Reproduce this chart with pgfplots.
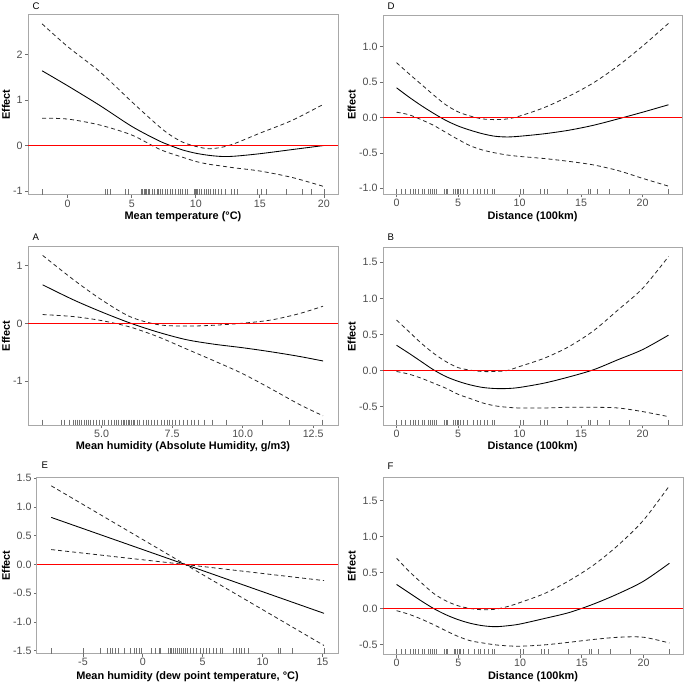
\documentclass[border=0pt]{standalone}
\usepackage{pgfplots}
\pgfplotsset{compat=1.18}
\usepackage{pgfplotstable}
\usepackage{fontspec}
\setmainfont{Liberation Sans}

\definecolor{framegray}{RGB}{168,168,168}
\definecolor{tickgray}{RGB}{77,77,77}
\definecolor{tickmark}{RGB}{110,110,110}

\pgfplotsset{
  every axis title shift=0pt,
  gam/.style={
    scale only axis,
    anchor=south west,
    axis line style={draw=framegray, line width=0.75pt},
    tick align=outside,
    xtick pos=left, ytick pos=left,
    major tick length=2.4pt,
    tick style={draw=tickmark, line width=0.55pt},
    tick label style={font=\fontsize{8}{9.6}\selectfont, text=tickgray},
    xticklabel style={yshift=2.2pt},
    yticklabel style={xshift=1.8pt},
    /pgf/number format/assume math mode=true,
    clip=true,
  },
  ylab/.style={every axis y label/.style={at={(rel axis cs:0,0.5)}, anchor=center, xshift=-#1, rotate=90, font=\fontsize{8.2}{10}\selectfont\bfseries}},
  xlab/.style={every axis x label/.style={at={(rel axis cs:0.5,0)}, anchor=center, yshift=-#1, font=\fontsize{8.2}{10}\selectfont\bfseries}},
  ptitle/.style={every axis title/.style={at={(rel axis cs:0,1)}, anchor=base west, yshift=#1, font=\fontsize{7.2}{8}\selectfont}},
  fitcurve/.style={draw=black, line width=0.65pt, smooth},
  cicurve/.style={draw=black!85, line width=0.6pt, dash pattern=on 3pt off 2.25pt, smooth},
  redzero/.style={color=red, line width=1.2pt},
  rugmarks/.style={only marks, mark=|, mark size=2pt, mark options={draw=black!55, line width=0.4pt, yshift=2pt}},
  dec1y/.style={yticklabel style={/pgf/number format/.cd, fixed, fixed zerofill, precision=1}},
  dec1x/.style={xticklabel style={/pgf/number format/.cd, fixed, fixed zerofill, precision=1}},
}

% ---- smooth fits: x, fit, upper, lower ----
\pgfplotstableread[row sep=\\]{
x fit up lo\\
-2 1.64 2.67 0.60\\
0 1.31 2.17 0.58\\
2.5 0.88 1.62 0.45\\
5 0.42 0.96 0.23\\
7 0.12 0.45 -0.06\\
8 0.00 0.23 -0.17\\
9 -0.10 0.07 -0.26\\
10 -0.17 -0.02 -0.35\\
11 -0.215 -0.07 -0.41\\
12 -0.24 -0.04 -0.45\\
13 -0.235 0.04 -0.49\\
15 -0.18 0.27 -0.56\\
17.5 -0.09 0.55 -0.70\\
20 0.00 0.91 -0.90\\
}\datC

\pgfplotstableread[row sep=\\]{
x fit up lo\\
0 0.42 0.775 0.075\\
1 0.29 0.62 0.04\\
2 0.17 0.47 -0.03\\
3 0.06 0.32 -0.11\\
4 -0.04 0.18 -0.21\\
5 -0.12 0.08 -0.31\\
6 -0.18 0.02 -0.40\\
7 -0.23 -0.02 -0.46\\
8 -0.265 -0.03 -0.50\\
9 -0.275 -0.02 -0.53\\
10 -0.265 0.02 -0.55\\
12 -0.23 0.14 -0.58\\
14 -0.18 0.30 -0.62\\
16 -0.11 0.49 -0.67\\
18 -0.02 0.73 -0.75\\
20 0.075 1.01 -0.86\\
22.1 0.18 1.33 -0.97\\
}\datD

\pgfplotstableread[row sep=\\]{
x fit up lo\\
2.91 0.67 1.18 0.155\\
4 0.41 0.76 0.12\\
5 0.20 0.41 0.05\\
6 0.01 0.12 -0.06\\
7 -0.15 -0.02 -0.23\\
8 -0.28 -0.045 -0.44\\
9 -0.36 -0.03 -0.65\\
10 -0.42 0.005 -0.87\\
11 -0.49 0.06 -1.13\\
12 -0.57 0.17 -1.40\\
12.85 -0.65 0.30 -1.60\\
}\datA

\pgfplotstableread[row sep=\\]{
x fit up lo\\
0 0.35 0.70 -0.014\\
1 0.24 0.54 -0.05\\
2 0.125 0.38 -0.106\\
3 0.01 0.24 -0.175\\
4 -0.083 0.125 -0.245\\
5 -0.15 0.04 -0.33\\
6 -0.20 0.005 -0.39\\
7 -0.235 -0.014 -0.45\\
8 -0.25 -0.014 -0.49\\
9 -0.25 0.00 -0.51\\
10 -0.235 0.055 -0.52\\
12 -0.175 0.17 -0.52\\
14 -0.09 0.33 -0.51\\
16 0.01 0.55 -0.51\\
18 0.15 0.84 -0.52\\
20 0.29 1.14 -0.57\\
22.1 0.49 1.58 -0.64\\
}\datB

\pgfplotstableread[row sep=\\]{
x fit up lo\\
-7.65 0.82 1.37 0.26\\
3.55 0.0 0.0 0.0\\
15.13 -0.85 -0.28 -1.41\\
}\datE

\pgfplotstableread[row sep=\\]{
x fit up lo\\
0 0.335 0.70 -0.03\\
1 0.22 0.52 -0.08\\
2 0.106 0.36 -0.147\\
3 0.0 0.21 -0.225\\
4 -0.087 0.106 -0.31\\
5 -0.156 0.037 -0.39\\
6 -0.207 0.0 -0.45\\
7 -0.24 -0.018 -0.48\\
8 -0.253 -0.01 -0.506\\
9 -0.24 0.028 -0.52\\
10 -0.216 0.083 -0.525\\
12 -0.138 0.21 -0.506\\
14 -0.055 0.39 -0.47\\
16 0.065 0.61 -0.43\\
18 0.21 0.89 -0.40\\
20 0.38 1.23 -0.40\\
22.1 0.63 1.71 -0.48\\
}\datF

% ---- rug positions (x, dummy) ----
\pgfplotstableread[row sep=\\]{
x r\\ -2.0 0\\ 2.9 0\\ 3.1 0\\ 3.3 0\\ 4.5 0\\ 4.75 0\\ 5.75 0\\ 5.85 0\\ 5.95 0\\ 6.05 0\\ 6.15 0\\ 6.3 0\\ 6.4 0\\ 6.6 0\\ 6.75 0\\ 7.0 0\\ 7.1 0\\ 7.25 0\\ 7.4 0\\ 7.6 0\\ 7.8 0\\ 8.0 0\\ 8.2 0\\ 8.4 0\\ 8.6 0\\ 8.75 0\\ 8.95 0\\ 9.2 0\\ 9.35 0\\ 9.85 0\\ 9.95 0\\ 10.0 0\\ 10.1 0\\ 10.25 0\\ 10.45 0\\ 10.65 0\\ 10.85 0\\ 11.0 0\\ 11.15 0\\ 11.35 0\\ 11.55 0\\ 11.75 0\\ 12.0 0\\ 12.3 0\\ 12.8 0\\ 13.0 0\\ 13.2 0\\ 14.8 0\\ 15.1 0\\ 15.5 0\\ 17.1 0\\ 18.3 0\\ 19.0 0\\ 20.0 0\\
}\rugtemp

\pgfplotstableread[row sep=\\]{
x r\\ 2.90 0\\ 3.57 0\\ 3.69 0\\ 3.87 0\\ 3.99 0\\ 4.07 0\\ 4.14 0\\ 4.22 0\\ 4.28 0\\ 4.37 0\\ 4.46 0\\ 4.52 0\\ 4.60 0\\ 4.69 0\\ 4.81 0\\ 4.91 0\\ 5.01 0\\ 5.08 0\\ 5.22 0\\ 5.34 0\\ 5.44 0\\ 5.52 0\\ 5.60 0\\ 5.70 0\\ 5.75 0\\ 5.81 0\\ 5.88 0\\ 5.93 0\\ 5.99 0\\ 6.05 0\\ 6.11 0\\ 6.17 0\\ 6.26 0\\ 6.34 0\\ 6.46 0\\ 6.58 0\\ 6.66 0\\ 6.76 0\\ 6.87 0\\ 6.99 0\\ 7.11 0\\ 7.23 0\\ 7.32 0\\ 7.41 0\\ 7.52 0\\ 7.61 0\\ 7.76 0\\ 7.91 0\\ 8.05 0\\ 8.17 0\\ 8.29 0\\ 8.43 0\\ 8.64 0\\ 8.94 0\\ 9.41 0\\ 10.71 0\\ 11.65 0\\ 12.83 0\\
}\rughum

\pgfplotstableread[row sep=\\]{
x r\\ -7.63 0\\ -4.99 0\\ -3.59 0\\ -2.98 0\\ -2.76 0\\ -2.56 0\\ -2.34 0\\ -2.06 0\\ -1.59 0\\ -1.09 0\\ -0.75 0\\ -0.53 0\\ -0.31 0\\ -0.11 0\\ 0.72 0\\ 1.00 0\\ 1.36 0\\ 1.48 0\\ 2.12 0\\ 2.26 0\\ 2.40 0\\ 2.53 0\\ 2.73 0\\ 2.90 0\\ 3.04 0\\ 3.23 0\\ 3.37 0\\ 3.54 0\\ 3.70 0\\ 3.93 0\\ 4.21 0\\ 4.48 0\\ 4.76 0\\ 5.04 0\\ 5.32 0\\ 5.54 0\\ 5.88 0\\ 6.16 0\\ 6.43 0\\ 6.66 0\\ 7.55 0\\ 7.83 0\\ 8.05 0\\ 8.25 0\\ 8.47 0\\ 8.80 0\\ 11.31 0\\ 11.50 0\\ 12.51 0\\ 15.13 0\\
}\rugdew

\pgfplotstableread[row sep=\\]{
x r\\ 0 0\\ 0.38 0\\ 0.73 0\\ 1.14 0\\ 1.35 0\\ 1.54 0\\ 1.73 0\\ 2.08 0\\ 2.27 0\\ 2.54 0\\ 2.76 0\\ 2.89 0\\ 3.08 0\\ 3.24 0\\ 3.84 0\\ 4.05 0\\ 4.11 0\\ 4.65 0\\ 4.78 0\\ 4.92 0\\ 5.05 0\\ 5.19 0\\ 5.41 0\\ 5.78 0\\ 6.27 0\\ 6.59 0\\ 6.81 0\\ 7.14 0\\ 7.41 0\\ 7.76 0\\ 7.95 0\\ 10.05 0\\ 10.27 0\\ 11.68 0\\ 12.0 0\\ 12.27 0\\ 13.89 0\\ 15.59 0\\ 15.78 0\\ 16.32 0\\ 17.3 0\\ 18.92 0\\ 22.1 0\\
}\rugdist

\begin{document}
\begin{tikzpicture}
\path[use as bounding box] (0pt,0pt) rectangle (513.75pt,-513.75pt);

% ===== F =====
\begin{axis}[gam, dec1y, at={(287.25pt,-490.85pt)}, width=225pt, height=132.5pt,
  xmin=-1.1, xmax=23.2, ymin=-0.64, ymax=1.82,
  xtick={0,5,10,15,20}, ytick={-0.5,0,0.5,1,1.5},
  xlabel={Distance (100km)}, ylabel={Effect}, title={F},
  ylab=23.5pt, xlab=16.5pt, ptitle=6.25pt]
\addplot[rugmarks] table[x=x, y expr=-0.64] {\rugdist};
\addplot[cicurve] table[x=x, y=up] {\datF};
\addplot[cicurve] table[x=x, y=lo] {\datF};
\addplot[fitcurve] table[x=x, y=fit] {\datF};
\addplot[redzero] coordinates {(-1.1,0) (23.2,0)};
\end{axis}

% ===== E =====
\begin{axis}[gam, dec1y, at={(27.75pt,-490.14pt)}, width=225.75pt, height=131.8pt,
  xmin=-8.84, xmax=16.3, ymin=-1.55, ymax=1.51,
  xtick={-5,0,5,10,15}, ytick={-1.5,-1,-0.5,0,0.5,1,1.5},
  xlabel={Mean humidity (dew point temperature, °C)}, ylabel={Effect}, title={E},
  ylab=23.25pt, xlab=17pt, ptitle=6.75pt]
\addplot[rugmarks] table[x=x, y expr=-1.55] {\rugdew};
\addplot[cicurve, sharp plot] table[x=x, y=up] {\datE};
\addplot[cicurve, sharp plot] table[x=x, y=lo] {\datE};
\addplot[fitcurve, sharp plot] table[x=x, y=fit] {\datE};
\addplot[redzero] coordinates {(-8.84,0) (16.3,0)};
\end{axis}

% ===== B =====
\begin{axis}[gam, dec1y, at={(287.25pt,-318.96pt)}, width=224.25pt, height=133pt,
  xmin=-1.1, xmax=23.2, ymin=-0.76, ymax=1.70,
  xtick={0,5,10,15,20}, ytick={-0.5,0,0.5,1,1.5},
  xlabel={Distance (100km)}, ylabel={Effect}, title={B},
  ylab=23.5pt, xlab=16pt, ptitle=5.25pt]
\addplot[rugmarks] table[x=x, y expr=-0.76] {\rugdist};
\addplot[cicurve] table[x=x, y=up] {\datB};
\addplot[cicurve] table[x=x, y=lo] {\datB};
\addplot[fitcurve] table[x=x, y=fit] {\datB};
\addplot[redzero] coordinates {(-1.1,0) (23.2,0)};
\end{axis}

% ===== A =====
\begin{axis}[gam, dec1x, at={(21pt,-318.77pt)}, width=232.5pt, height=133.7pt,
  xmin=2.39, xmax=13.38, ymin=-1.76, ymax=1.33,
  xtick={5,7.5,10,12.5}, ytick={-1,0,1},
  xlabel={Mean humidity (Absolute Humidity, g/m3)}, ylabel={Effect}, title={A},
  ylab=16.5pt, xlab=16pt, ptitle=5pt]
\addplot[rugmarks] table[x=x, y expr=-1.76] {\rughum};
\addplot[cicurve] table[x=x, y=up] {\datA};
\addplot[cicurve] table[x=x, y=lo] {\datA};
\addplot[fitcurve] table[x=x, y=fit] {\datA};
\addplot[redzero] coordinates {(2.39,0) (13.38,0)};
\end{axis}

% ===== D =====
\begin{axis}[gam, dec1y, at={(287.25pt,-145.7pt)}, width=224.25pt, height=134.25pt,
  xmin=-1.1, xmax=23.2, ymin=-1.085, ymax=1.445,
  xtick={0,5,10,15,20}, ytick={-1,-0.5,0,0.5,1},
  xlabel={Distance (100km)}, ylabel={Effect}, title={D},
  ylab=23.5pt, xlab=16.75pt, ptitle=4.25pt]
\addplot[rugmarks] table[x=x, y expr=-1.085] {\rugdist};
\addplot[cicurve] table[x=x, y=up] {\datD};
\addplot[cicurve] table[x=x, y=lo] {\datD};
\addplot[fitcurve] table[x=x, y=fit] {\datD};
\addplot[redzero] coordinates {(-1.1,0) (23.2,0)};
\end{axis}

% ===== C =====
\begin{axis}[gam, at={(21pt,-146.04pt)}, width=232.5pt, height=135pt,
  xmin=-3.1, xmax=21.1, ymin=-1.08, ymax=2.87,
  xtick={0,5,10,15,20}, ytick={-1,0,1,2},
  xlabel={Mean temperature (°C)}, ylabel={Effect}, title={C},
  ylab=16.5pt, xlab=16.25pt, ptitle=3.75pt]
\addplot[rugmarks] table[x=x, y expr=-1.08] {\rugtemp};
\addplot[cicurve] table[x=x, y=up] {\datC};
\addplot[cicurve] table[x=x, y=lo] {\datC};
\addplot[fitcurve] table[x=x, y=fit] {\datC};
\addplot[redzero] coordinates {(-3.1,0) (21.1,0)};
\end{axis}
\end{tikzpicture}
\end{document}
